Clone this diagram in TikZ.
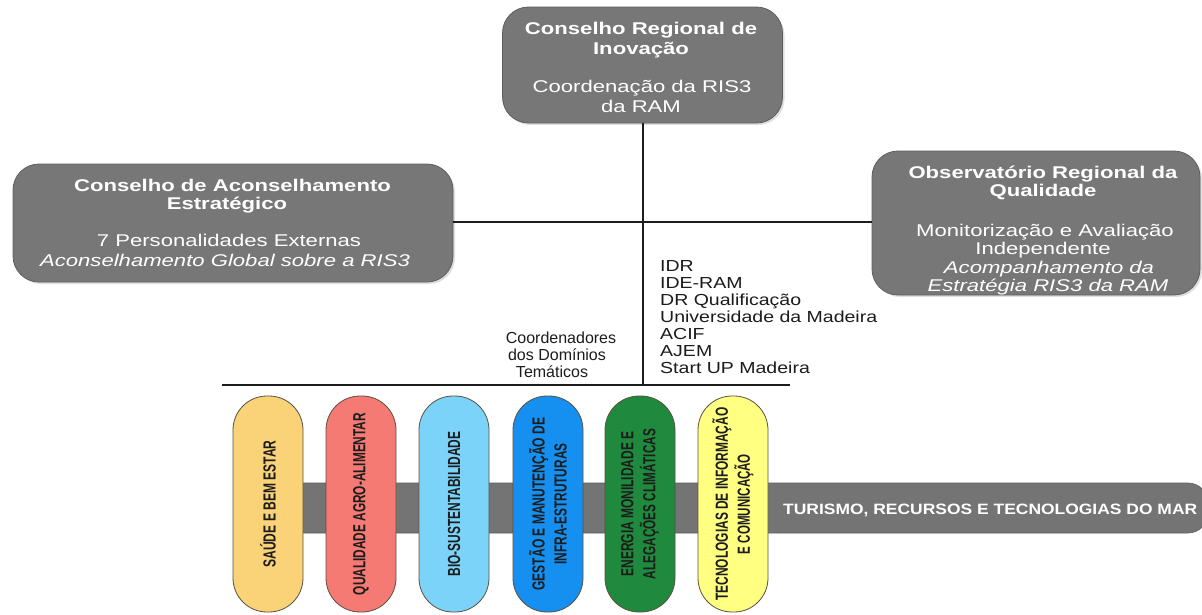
\documentclass[tikz,border=0pt]{standalone}
\usepackage{fontspec}
\setmainfont{Liberation Sans}
\usepackage{graphicx}
\usetikzlibrary{shadows}
\definecolor{boxgray}{HTML}{777777}
\definecolor{boxedge}{HTML}{5E5E5E}
\definecolor{bargray}{HTML}{747474}
\definecolor{pilledge}{HTML}{5A5040}
\definecolor{pyellow}{HTML}{FAD278}
\definecolor{pred}{HTML}{F57A73}
\definecolor{plblue}{HTML}{7CD3FA}
\definecolor{pblue}{HTML}{1590F0}
\definecolor{pgreen}{HTML}{1F8A3D}
\definecolor{plyellow}{HTML}{FFFF82}
\definecolor{ink}{HTML}{1C1C1C}
\newcommand\fw[2]{\resizebox{#1pt}{\height}{#2}}
\newcommand\hsx[1]{\scalebox{1.3}[1]{#1}}
\newcommand\hsl[1]{\scalebox{1.22}[1]{#1}}
\begin{document}
\begin{tikzpicture}[x=1pt,y=-1pt,
  gbox/.style={draw=boxedge, line width=0.8pt, fill=boxgray, rounded corners=26pt, inner sep=0pt,
    drop shadow={opacity=0.25, shadow xshift=2pt, shadow yshift=-2pt}},
  wt/.style={anchor=base, inner sep=0pt, text=white, font=\fontsize{17}{19}\selectfont},
  bt/.style={anchor=base, inner sep=0pt, text=ink, font=\fontsize{16}{18}\selectfont},
  lt/.style={anchor=base west, inner sep=0pt, text=ink, font=\fontsize{16}{18}\selectfont},
  pill/.style={draw=pilledge, line width=0.8pt, rounded corners=34pt, minimum width=216pt,
    minimum height=70pt, rotate=90, align=center, inner sep=0pt, text=ink,
    font=\fontsize{17.5}{22}\selectfont\bfseries},
  conn/.style={line width=1.3pt, draw=ink}]
\useasboundingbox (0,0) rectangle (1202,614);
\fill[white] (0,0) rectangle (1202,614);

% boxes
\node[gbox, minimum width=280pt, minimum height=116pt] (top) at (642.5,65) {};
\node[gbox, minimum width=440pt, minimum height=118pt] (left) at (233,223) {};
\node[gbox, minimum width=328pt, minimum height=144pt] (right) at (1036,223) {};

% connectors
\coordinate (j1) at (643,222);
\coordinate (j2) at (643,385);
\coordinate (hl) at (222,385);
\coordinate (hr) at (790,385);
\draw[conn] (top.south -| j1) -- (j2);
\draw[conn] (left.east |- j1) -- (right.west |- j1);
\draw[conn] (hl) -- (hr);

% top box text
\node[wt] (top1) at (641,34) {\hsx{\bfseries Conselho Regional de}};
\node[wt] (top2) at (641,54) {\hsx{\bfseries Inovação}};
\node[wt] (top3) at (642,92) {\hsx{Coordenação da RIS3}};
\node[wt] (top4) at (641,112) {\hsx{da RAM}};

% left box text
\node[wt] (left1) at (232.5,191) {\hsx{\bfseries Conselho de Aconselhamento}};
\node[wt] (left2) at (227,209) {\hsx{\bfseries Estratégico}};
\node[wt] (left3) at (229,246) {\hsx{7 Personalidades Externas}};
\node[wt] (left4) at (225,266) {\hsx{\itshape Aconselhamento Global sobre a RIS3}};

% right box text
\node[wt] (right1) at (1043,178) {\hsx{\bfseries Observatório Regional da}};
\node[wt] (right2) at (1043,196) {\hsx{\bfseries Qualidade}};
\node[wt] (right3) at (1045,236) {\hsx{Monitorização e Avaliação}};
\node[wt] (right4) at (1043,254) {\hsx{Independente}};
\node[wt] (right5) at (1049,273) {\hsx{\itshape Acompanhamento da}};
\node[wt] (right6) at (1048,291) {\hsx{\itshape Estratégia RIS3 da RAM}};

% coordinators text
\node[bt] (cd1) at (561,343) {Coordenadores};
\node[bt] (cd2) at (557,360) {dos Domínios};
\node[bt] (cd3) at (552,377) {Temáticos};

% institutions list
\node[lt] (l1) at (660,271) {\hsl{IDR}};
\node[lt] (l2) at (660,288) {\hsl{IDE-RAM}};
\node[lt] (l3) at (660,305) {\hsl{DR Qualificação}};
\node[lt] (l4) at (660,322) {\hsl{Universidade da Madeira}};
\node[lt] (l5) at (660,339) {\hsl{ACIF}};
\node[lt] (l6) at (660,356) {\hsl{AJEM}};
\node[lt] (l7) at (660,373) {\hsl{Start UP Madeira}};

% sea bar
\node[fill=bargray, draw=bargray!80!black, line width=0.6pt, rounded corners=20pt,
  minimum width=940pt, minimum height=50pt, inner sep=0pt] (bar) at (738,508) {};
\node[wt, anchor=base west, font=\fontsize{15}{18}\selectfont] (bartxt) at (783,514)
  {\fw{414}{\bfseries TURISMO, RECURSOS E TECNOLOGIAS DO MAR}};

% pills
\node[pill, fill=pyellow] (p1) at (268,504) {\fw{127}{SAÚDE E BEM ESTAR}};
\node[pill, fill=pred] (p2) at (361,504) {\fw{182}{QUALIDADE AGRO-ALIMENTAR}};
\node[pill, fill=plblue] (p3) at (454,504) {\fw{145}{BIO-SUSTENTABILIDADE}};
\node[pill, fill=pblue] (p4) at (548,504) {\fw{173}{GESTÃO E MANUTENÇÃO DE}\\\fw{121}{INFRA-ESTRUTURAS}};
\node[pill, fill=pgreen] (p5) at (640,504) {\fw{145}{ENERGIA MONILIDADE E}\\\fw{150}{ALEGAÇÕES CLIMÁTICAS}};
\node[pill, fill=plyellow] (p6) at (733,504) {\fw{193}{TECNOLOGIAS DE INFORMAÇÃO}\\\fw{100}{E COMUNICAÇÃO}};
\end{tikzpicture}
\end{document}
